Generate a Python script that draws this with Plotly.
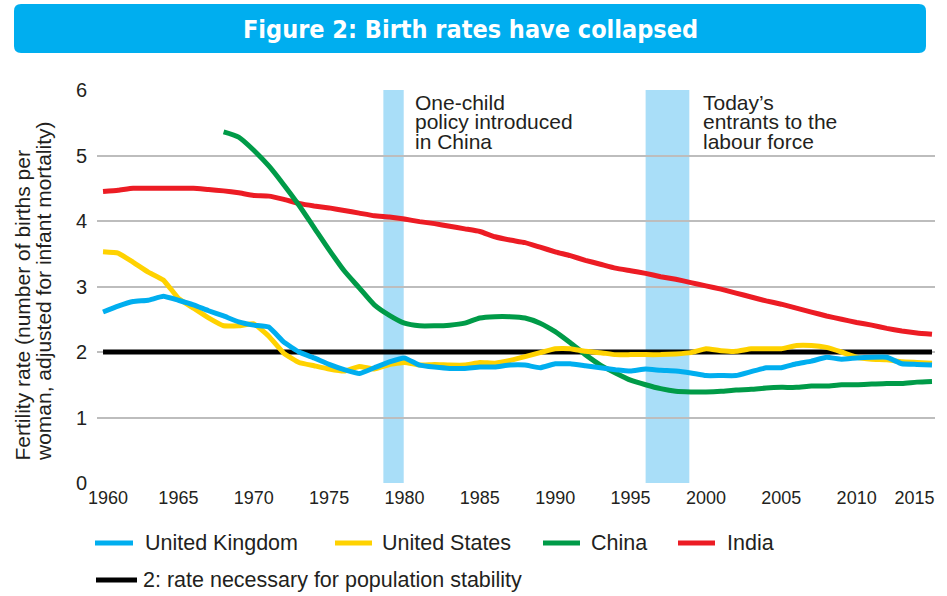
import plotly.graph_objects as go

years = list(range(1960, 2016))

uk = [2.61, 2.70, 2.77, 2.79, 2.85, 2.79, 2.72, 2.63, 2.55, 2.46,
      2.41, 2.38, 2.15, 2.00, 1.91, 1.81, 1.73, 1.67, 1.76, 1.85,
      1.91, 1.80, 1.77, 1.75, 1.75, 1.77, 1.77, 1.80, 1.80, 1.76,
      1.82, 1.82, 1.79, 1.76, 1.73, 1.71, 1.74, 1.72, 1.71, 1.68,
      1.64, 1.64, 1.64, 1.70, 1.76, 1.76, 1.82, 1.86, 1.92, 1.89,
      1.91, 1.92, 1.92, 1.82, 1.81, 1.80]

us = [3.53, 3.51, 3.37, 3.22, 3.10, 2.82, 2.67, 2.52, 2.40, 2.40,
      2.43, 2.24, 1.98, 1.84, 1.79, 1.74, 1.71, 1.78, 1.74, 1.81,
      1.84, 1.80, 1.81, 1.80, 1.80, 1.84, 1.83, 1.87, 1.93, 1.99,
      2.05, 2.05, 2.01, 1.99, 1.96, 1.96, 1.96, 1.96, 1.97, 1.99,
      2.05, 2.02, 2.01, 2.05, 2.05, 2.05, 2.10, 2.10, 2.07, 2.00,
      1.92, 1.89, 1.88, 1.85, 1.84, 1.83]

china_years = list(range(1968, 2016))
china = [5.36, 5.28, 5.08, 4.84, 4.55, 4.24, 3.90, 3.56, 3.24, 2.98,
         2.72, 2.56, 2.44, 2.40, 2.40, 2.41, 2.44, 2.52, 2.54, 2.54,
         2.52, 2.44, 2.31, 2.14, 1.96, 1.80, 1.68, 1.57, 1.50, 1.44,
         1.40, 1.39, 1.39, 1.40, 1.42, 1.43, 1.45, 1.46, 1.46, 1.48,
         1.48, 1.50, 1.50, 1.51, 1.52, 1.52, 1.54, 1.55]

india = [4.45, 4.47, 4.50, 4.50, 4.50, 4.50, 4.50, 4.48, 4.46, 4.43,
         4.39, 4.38, 4.33, 4.27, 4.23, 4.20, 4.16, 4.12, 4.08, 4.06,
         4.03, 3.99, 3.96, 3.92, 3.88, 3.84, 3.76, 3.71, 3.67, 3.60,
         3.53, 3.47, 3.40, 3.34, 3.28, 3.24, 3.20, 3.15, 3.11, 3.06,
         3.01, 2.96, 2.90, 2.84, 2.78, 2.73, 2.67, 2.61, 2.55, 2.50,
         2.45, 2.41, 2.36, 2.32, 2.29, 2.27]

stability = [2.0] * len(years)

series_names = ["United Kingdom", "United States", "China", "India"]
stability_name = "2: rate necessary for population stability"
bands = [(1978.6, 1979.95), (1996.0, 1998.9)]
band_notes = [["One-child", "policy introduced", "in China"],
              ["Today\u2019s", "entrants to the", "labour force"]]
yaxis_lines = ["Fertility rate (number of births per",
               "woman, adjusted for infant mortality)"]
title_text = "Figure 2: Birth rates have collapsed"
x_ticks = list(range(1960, 2016, 5))
x_tick_labels = [str(v) for v in x_ticks]
y_ticks = [0, 1, 2, 3, 4, 5, 6]

C_UK = "#00AEEF"
C_US = "#FFD200"
C_CN = "#009B48"
C_IN = "#EC1C24"
C_BK = "#000000"
C_BAND = "#A9DEF8"
FONT = "Liberation Sans, Arial, sans-serif"
TXT = "#231F20"

W, H = 947, 596
L, R, T, B = 97, 935, 90, 483   # plot area pixels

def px(xp):
    return (xp - L) / (R - L)

def py(yp):
    return (B - yp) / (B - T)

# keep the end labels inside the frame, as in the original
NB = "\u00a0"
tick_text = list(x_tick_labels)
tick_text[0] = NB * 2 + tick_text[0]
tick_text[-1] = tick_text[-1] + NB * 7

fig = go.Figure()

fig.add_trace(go.Scatter(x=years, y=stability, mode="lines",
                         line=dict(color=C_BK, width=5), name=stability_name))
fig.add_trace(go.Scatter(x=years, y=india, mode="lines",
                         line=dict(color=C_IN, width=5, shape="spline", smoothing=0.4), name="India"))
fig.add_trace(go.Scatter(x=china_years, y=china, mode="lines",
                         line=dict(color=C_CN, width=5, shape="spline", smoothing=0.6), name="China"))
fig.add_trace(go.Scatter(x=years, y=us, mode="lines",
                         line=dict(color=C_US, width=5, shape="spline", smoothing=0.3), name="United States"))
fig.add_trace(go.Scatter(x=years, y=uk, mode="lines",
                         line=dict(color=C_UK, width=5, shape="spline", smoothing=0.3), name="United Kingdom"))

shapes = []
for x0, x1 in bands:
    shapes.append(dict(type="rect", xref="x", yref="y", x0=x0, x1=x1, y0=0, y1=6,
                       fillcolor=C_BAND, line=dict(width=0), layer="below"))

# title banner (rounded rectangle)
bx0, bx1, by0, by1, r = 14, 926, 4, 53, 7
def P(xp, yp):
    return f"{px(xp):.5f},{py(yp):.5f}"
path = (f"M {P(bx0 + r, by0)} L {P(bx1 - r, by0)} Q {P(bx1, by0)} {P(bx1, by0 + r)} "
        f"L {P(bx1, by1 - r)} Q {P(bx1, by1)} {P(bx1 - r, by1)} "
        f"L {P(bx0 + r, by1)} Q {P(bx0, by1)} {P(bx0, by1 - r)} "
        f"L {P(bx0, by0 + r)} Q {P(bx0, by0)} {P(bx0 + r, by0)} Z")
shapes.append(dict(type="path", xref="paper", yref="paper", path=path,
                   fillcolor=C_UK, line=dict(width=0), layer="above"))

annotations = []
annotations.append(dict(text="<b>" + title_text + "</b>", xref="paper", yref="paper",
                        x=px(470), y=py(29), xanchor="center", yanchor="middle",
                        showarrow=False,
                        font=dict(family="Liberation Sans Narrow, DejaVu Sans Condensed, Arial Narrow, sans-serif",
                                  size=25, color="white")))

# y-axis title (two rotated lines)
for i, (line, xc) in enumerate(zip(yaxis_lines, [21.5, 43.5])):
    annotations.append(dict(text=line, xref="paper", yref="paper",
                            x=px(xc), y=py(463), xanchor="center", yanchor="bottom",
                            textangle=-90, showarrow=False,
                            font=dict(family=FONT, size=21, color=TXT)))

# band notes
for notes, xl in zip(band_notes, [413, 701]):
    for j, line in enumerate(notes):
        annotations.append(dict(text=line, xref="paper", yref="paper",
                                x=px(xl), y=py(102 + 19.5 * j), xanchor="left", yanchor="middle",
                                showarrow=False,
                                font=dict(family=FONT, size=21, color=TXT)))

# custom legend
legend_items = [
    ("United Kingdom", C_UK, 95, 133, 143, 543),
    ("United States", C_US, 335, 372, 380, 543),
    ("China", C_CN, 543, 580, 589, 543),
    ("India", C_IN, 678, 715, 725, 543),
    (stability_name, C_BK, 96, 137, 141, 580),
]
for name, col, lx0, lx1, tx, ly in legend_items:
    shapes.append(dict(type="line", xref="paper", yref="paper",
                       x0=px(lx0), x1=px(lx1), y0=py(ly), y1=py(ly),
                       line=dict(color=col, width=5)))
    annotations.append(dict(text=name, xref="paper", yref="paper",
                            x=px(tx), y=py(ly), xanchor="left", yanchor="middle",
                            showarrow=False,
                            font=dict(family=FONT, size=21.5, color=TXT)))

fig.update_layout(
    width=W, height=H,
    margin=dict(l=L, r=W - R, t=T, b=H - B, pad=0, autoexpand=False),
    paper_bgcolor="white", plot_bgcolor="white",
    showlegend=False,
    shapes=shapes, annotations=annotations,
    font=dict(family=FONT, color=TXT),
    xaxis=dict(range=[1959.6, 2015.2], tickvals=x_ticks, ticktext=tick_text,
               showgrid=False, zeroline=False, showline=False, ticks="", automargin=False,
               ticklabeloverflow="allow", ticklabelstandoff=2,
               tickfont=dict(family=FONT, size=18, color=TXT), fixedrange=True),
    yaxis=dict(range=[0, 6], tickvals=y_ticks, showgrid=True, gridcolor="#BDBDBD", gridwidth=1.5,
               zeroline=False, showline=False, ticks="", ticklabelstandoff=9, automargin=False,
               tickfont=dict(family=FONT, size=20, color=TXT), fixedrange=True),
)

fig.write_html("out.html", config={"displayModeBar": False},
               post_script="document.body.style.margin='0';document.body.style.overflow='hidden';")
